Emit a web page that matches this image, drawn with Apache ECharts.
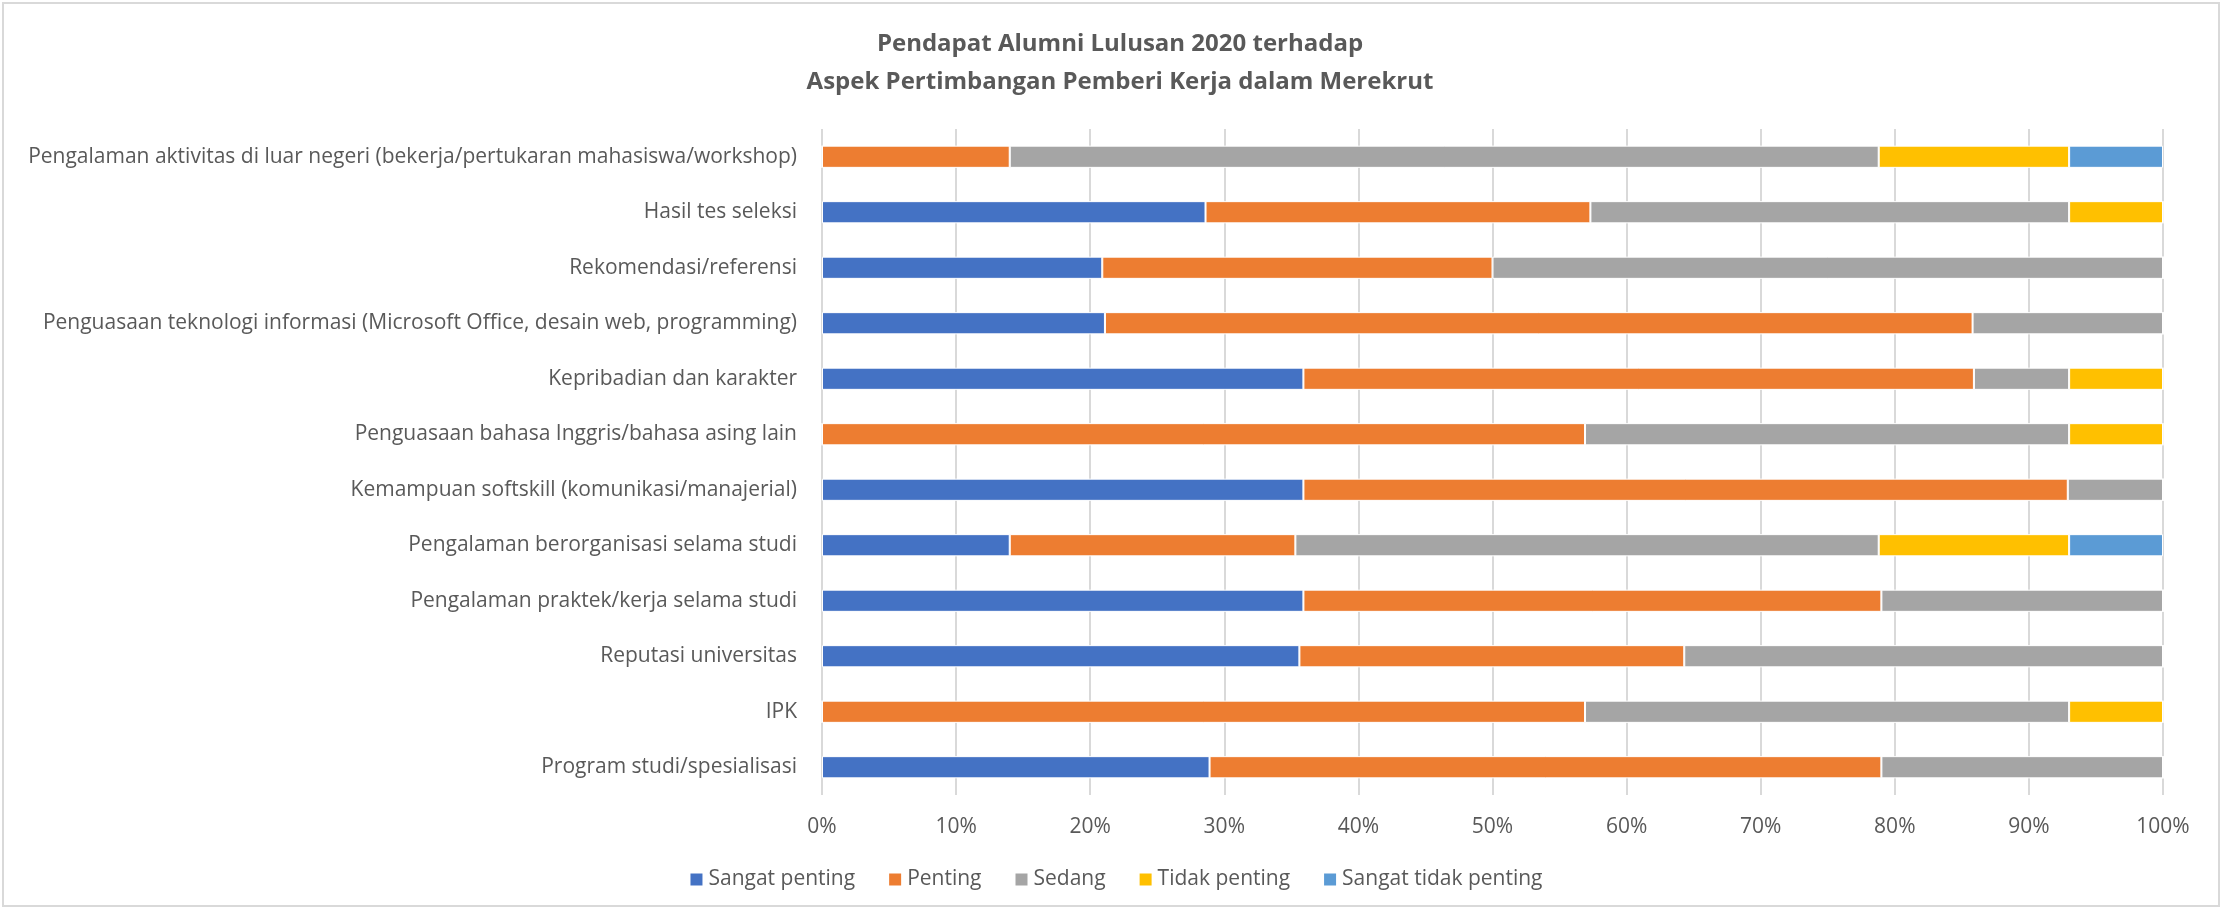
<!DOCTYPE html>
<html>
<head>
<meta charset="utf-8">
<title>Pendapat Alumni Lulusan 2020</title>
<script src="https://cdn.jsdelivr.net/npm/echarts@6/dist/echarts.min.js"></script>
<style>
  html, body { margin: 0; padding: 0; background: #fff; }
  #main { width: 2231px; height: 912px; }
</style>
</head>
<body>
<div id="main"></div>
<script>
// kategori, urutan dari atas ke bawah
var aspek = [
    'Pengalaman aktivitas di luar negeri (bekerja/pertukaran mahasiswa/workshop)',
    'Hasil tes seleksi',
    'Rekomendasi/referensi',
    'Penguasaan teknologi informasi (Microsoft Office, desain web, programming)',
    'Kepribadian dan karakter',
    'Penguasaan bahasa Inggris/bahasa asing lain',
    'Kemampuan softskill (komunikasi/manajerial)',
    'Pengalaman berorganisasi selama studi',
    'Pengalaman praktek/kerja selama studi',
    'Reputasi universitas',
    'IPK',
    'Program studi/spesialisasi'
];

// persentase tiap kategori jawaban (%)
var sangatPenting      = [0,    28.6, 20.9, 21.1, 35.9, 0,    35.9, 14.0, 35.9, 35.6, 0,    28.9];
var penting            = [14.0, 28.7, 29.1, 64.7, 50.0, 56.9, 57.0, 21.3, 43.1, 28.7, 56.9, 50.1];
var sedang             = [64.8, 35.7, 50.0, 14.2, 7.1,  36.1, 7.1,  43.5, 21.0, 35.7, 36.1, 21.0];
var tidakPenting       = [14.2, 7.0,  0,    0,    7.0,  7.0,  0,    14.2, 0,    0,    7.0,  0];
var sangatTidakPenting = [7.0,  0,    0,    0,    0,    0,    0,    7.0,  0,    0,    0,    0];

var xTicks = [0, 10, 20, 30, 40, 50, 60, 70, 80, 90, 100];

var namaSeri = ['Sangat penting', 'Penting', 'Sedang', 'Tidak penting', 'Sangat tidak penting'];
var warna = ['#4472C4', '#ED7D31', '#A5A5A5', '#FFC000', '#5B9BD5'];
var dataSeri = [sangatPenting, penting, sedang, tidakPenting, sangatTidakPenting];

var font = '"Open Sans", "Liberation Sans", sans-serif';
var abu = '#595959';

var myChart = echarts.init(document.getElementById('main'));

var series = [];
for (var i = 0; i < namaSeri.length; i++) {
    series.push({
        name: namaSeri[i],
        type: 'bar',
        stack: 'total',
        barCategoryGap: '60%',
        itemStyle: { color: warna[i], borderColor: '#ffffff', borderWidth: 1 },
        data: dataSeri[i]
    });
}

var option = {
    backgroundColor: '#ffffff',
    color: warna,
    animation: false,
    title: {
        text: 'Pendapat Alumni Lulusan 2020 terhadap\nAspek Pertimbangan Pemberi Kerja dalam Merekrut',
        left: 1115,
        top: 20,
        textAlign: 'center',
        textStyle: {
            fontFamily: font,
            fontSize: 24,
            fontWeight: 'bold',
            color: abu,
            lineHeight: 38
        }
    },
    legend: {
        data: namaSeri,
        bottom: 22,
        left: 'center',
        padding: 0,
        itemWidth: 14,
        itemHeight: 14,
        itemGap: 32,
        icon: 'rect',
        textStyle: { fontFamily: font, fontSize: 21, color: abu }
    },
    grid: {
        left: 822,
        right: 68,
        top: 129,
        bottom: 117
    },
    xAxis: {
        type: 'value',
        min: xTicks[0],
        max: xTicks[xTicks.length - 1],
        interval: 10,
        axisLine: { show: false },
        axisTick: { show: false },
        splitLine: { show: true, lineStyle: { color: '#D9D9D9', width: 2 } },
        axisLabel: {
            margin: 22,
            fontFamily: font,
            fontSize: 21,
            color: abu,
            formatter: '{value}%'
        }
    },
    yAxis: {
        type: 'category',
        inverse: true,
        data: aspek,
        axisLine: { show: false },
        axisTick: { show: false },
        axisLabel: {
            margin: 25,
            fontFamily: font,
            fontSize: 21,
            color: abu
        }
    },
    graphic: [{
        type: 'rect',
        silent: true,
        z: -1,
        shape: { x: 3, y: 3, width: 2216, height: 903 },
        style: { fill: 'none', stroke: '#D9D9D9', lineWidth: 2 }
    }],
    series: series
};

myChart.setOption(option);
</script>
</body>
</html>
